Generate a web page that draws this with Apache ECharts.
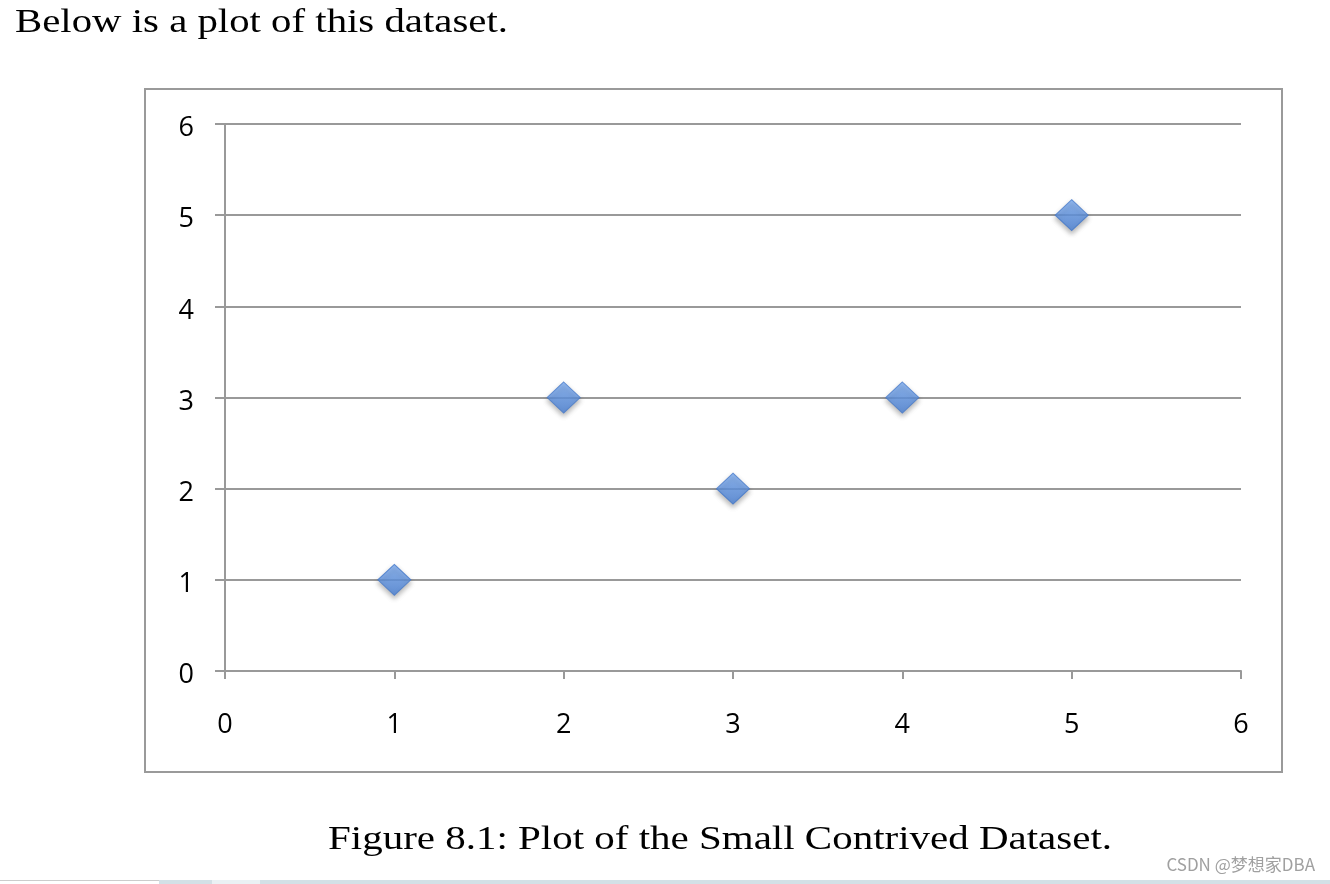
<!DOCTYPE html>
<html>
<head>
<meta charset="utf-8">
<script src="https://cdn.jsdelivr.net/npm/echarts@6/dist/echarts.min.js"></script>
<style>
html,body{margin:0;padding:0;background:#fff;}
#main{width:1330px;height:884px;}
</style>
</head>
<body>
<div id="main"></div>
<script>
const xValues = [1, 2, 3, 4, 5];
const yValues = [1, 3, 2, 3, 5];
const xTicks = [0, 1, 2, 3, 4, 5, 6];
const yTicks = [0, 1, 2, 3, 4, 5, 6];
const introText = 'Below is a plot of this dataset.';
const captionText = 'Figure 8.1: Plot of the Small Contrived Dataset.';
const watermarkText = 'CSDN @梦想家DBA';

const points = xValues.map((x, i) => [x, yValues[i]]);
const gray = '#999999';
const labelFont = '"Open Sans", sans-serif';

const chart = echarts.init(document.getElementById('main'));
chart.setOption({
  animation: false,
  backgroundColor: '#fff',
  grid: { left: 225, right: 89, top: 124, bottom: 213 },
  xAxis: {
    type: 'value',
    min: xTicks[0], max: xTicks[xTicks.length - 1], interval: 1,
    axisLine: { show: true, lineStyle: { color: gray, width: 2 } },
    axisTick: { show: true, length: 8, lineStyle: { color: gray, width: 2 } },
    splitLine: { show: false },
    axisLabel: { color: '#000', fontSize: 27, fontFamily: labelFont, margin: 41 }
  },
  yAxis: {
    type: 'value',
    min: yTicks[0], max: yTicks[yTicks.length - 1], interval: 1,
    axisLine: { show: true, lineStyle: { color: gray, width: 2 } },
    axisTick: { show: true, length: 10, lineStyle: { color: gray, width: 2 } },
    splitLine: { show: true, lineStyle: { color: gray, width: 2 } },
    axisLabel: { color: '#000', fontSize: 27, fontFamily: labelFont, margin: 31,
      verticalAlign: 'top', lineHeight: 9 }
  },
  series: [{
    type: 'scatter',
    data: points,
    symbol: 'diamond',
    symbolSize: [33, 31],
    itemStyle: {
      color: new echarts.graphic.LinearGradient(0, 0, 0, 1, [
        { offset: 0, color: '#7cadf4' },
        { offset: 1, color: '#4a82d8' }
      ]),
      borderColor: '#4679c9',
      borderWidth: 1,
      shadowBlur: 5,
      shadowOffsetY: 3,
      shadowColor: 'rgba(0,0,0,0.35)'
    }
  }],
  graphic: [
    { type: 'rect', z: -1, shape: { x: 145, y: 89, width: 1137, height: 683 },
      style: { fill: 'none', stroke: '#9a9a9a', lineWidth: 2 } },
    { type: 'text', x: 15, y: 6, scaleX: 1.2,
      style: { text: introText, font: '34px "Liberation Serif", serif', fill: '#000', verticalAlign: 'top' } },
    { type: 'text', x: 328, y: 823, scaleX: 1.205,
      style: { text: captionText, font: '34px "Liberation Serif", serif', fill: '#000', verticalAlign: 'top' } },
    { type: 'text', right: 15, top: 856,
      style: { text: watermarkText, font: '17px "Noto Sans CJK SC", sans-serif', fill: '#a0a0a0' } },
    { type: 'rect', shape: { x: 0, y: 880, width: 159, height: 1 }, style: { fill: '#cccccc' } },
    { type: 'rect', shape: { x: 159, y: 880, width: 53, height: 4 }, style: { fill: '#d3e0e6' } },
    { type: 'rect', shape: { x: 212, y: 880, width: 48, height: 4 }, style: { fill: '#eaf1f4' } },
    { type: 'rect', shape: { x: 260, y: 880, width: 1070, height: 4 }, style: { fill: '#d3e0e6' } }
  ]
});
</script>
</body>
</html>
